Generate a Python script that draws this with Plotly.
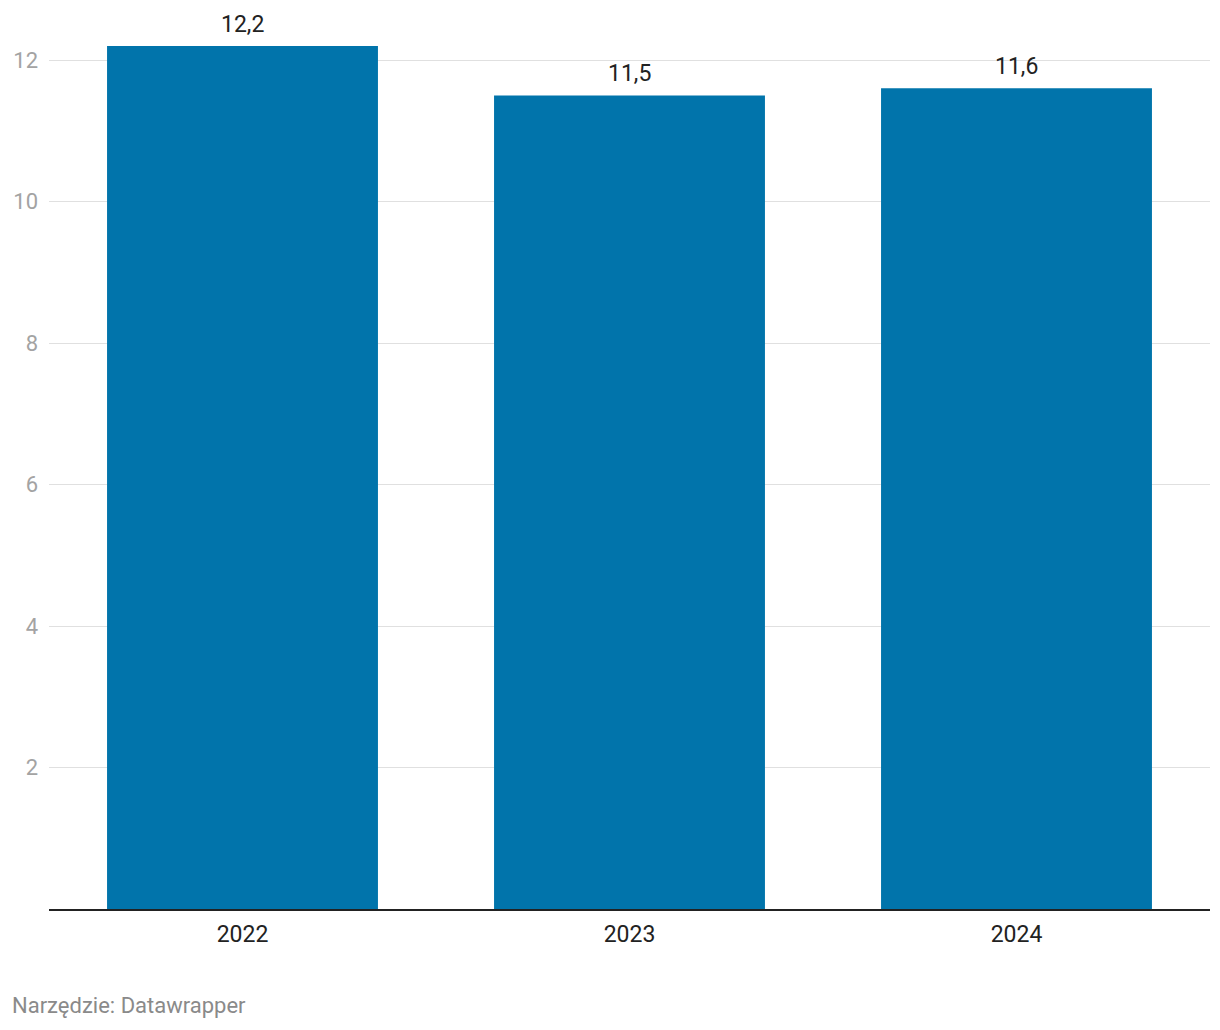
import plotly.graph_objects as go

categories = ["2022", "2023", "2024"]
values = [12.2, 11.5, 11.6]
value_labels = ["12,2", "11,5", "11,6"]
y_ticks = [2, 4, 6, 8, 10, 12]
footer = "Narzędzie: Datawrapper"

fig = go.Figure()
fig.add_trace(go.Bar(
    x=categories, y=values,
    marker=dict(color="#0174ab", line=dict(width=0)),
    hoverinfo="skip",
))

for i, (v, t) in enumerate(zip(values, value_labels)):
    fig.add_annotation(x=i, y=v, text=t, showarrow=False, yanchor="bottom",
                       yshift=6, font=dict(family="Roboto", size=23, color="#222222"))

fig.add_annotation(xref="paper", yref="paper", x=0, y=0, xanchor="left", yanchor="middle",
                   xshift=-39, yshift=-96, text=footer, showarrow=False,
                   font=dict(family="Roboto", size=22, color="#8a8a8a"))

# page body has an 8px default margin, so the figure is 8px smaller and offsets reduced
fig.update_layout(
    width=1212, height=1022,
    margin=dict(l=41, r=10, t=11, b=121, autoexpand=False),
    paper_bgcolor="white", plot_bgcolor="white",
    bargap=0.3,
    showlegend=False,
    font=dict(family="Roboto", size=23, color="#222222"),
    xaxis=dict(type="category", range=[-0.5, len(categories) - 0.5], automargin=False,
               showgrid=False, showline=True, linecolor="#222222", linewidth=2,
               ticks="", tickfont=dict(size=23, color="#222222"), ticklabelstandoff=3),
    yaxis=dict(range=[0, 12.58], tickvals=y_ticks, automargin=False, showgrid=True,
               gridcolor="#e0e0e0", gridwidth=1, zeroline=False, showline=False, ticks="",
               tickfont=dict(size=22, color="#a3a3a3"), ticklabelstandoff=10),
)

fig.write_html("out.html")
